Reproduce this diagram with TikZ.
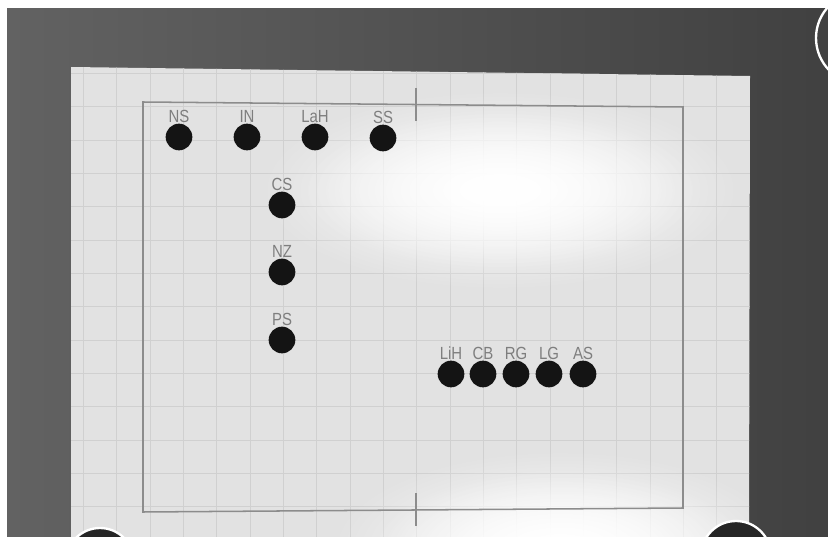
\documentclass[tikz,border=0pt]{standalone}
\usepackage{fontspec}
\setsansfont{Liberation Sans}
\usepackage{tikz}
\usetikzlibrary{positioning, fadings}
\definecolor{fundo}{HTML}{4C4C4C}
\definecolor{fundoclaro}{HTML}{626262}
\definecolor{papel}{HTML}{E2E2E2}
\definecolor{grade}{HTML}{D0D0D0}
\definecolor{moldura}{HTML}{8C8C8C}
\definecolor{texto}{HTML}{7E7E7E}
\tikzfading[name=brilho, inner color=transparent!0, outer color=transparent!100]

\begin{document}
\begin{tikzpicture}[x=0.03cm, y=-0.03cm,
    ponto/.style={circle, fill=black!92, minimum size=0.8cm, inner sep=0pt},
    rotulo/.style={font=\sffamily\fontsize{15}{15}\selectfont, text=texto, inner sep=0.3pt, xscale=0.85},
    linhagrade/.style={grade, line width=0.5pt},
    marca/.style={moldura, line width=1.2pt},
    lente/.style={fill=black!85, draw=white!85, line width=2pt},
    reflexo/.style={fill=white, path fading=brilho}
]
    \useasboundingbox (0,0) rectangle (828,537);
    \fill[white] (0,0) rectangle (828,537);
    \shade[left color=fundoclaro, right color=fundo!85!black] (7,9) rectangle (828,537);

    % folha com a grade
    \fill[papel] (71,67) -- (750,76) -- (749,537) -- (71,537) -- cycle;
    \begin{scope}
        \clip (71,67) -- (750,76) -- (749,537) -- (71,537) -- cycle;
        \foreach \k in {-11,...,9}
            \draw[linhagrade] ({450+33.33*\k},60) -- ++(0,480);
        \foreach \k in {-2,...,12}
            \draw[linhagrade] (60,{140+33.33*\k}) -- ++(700,0);
        \fill[reflexo] (500,190) ellipse [x radius=240, y radius=100];
        \fill[reflexo] (500,190) ellipse [x radius=200, y radius=80];
        \fill[reflexo] (560,550) ellipse [x radius=230, y radius=100];
        \fill[reflexo] (560,550) ellipse [x radius=190, y radius=80];
    \end{scope}

    % moldura e marcas
    \draw[moldura, line width=1.3pt] (143,102) -- (683,107) -- (683,508) -- (143,512) -- cycle;
    \draw[marca] (416,88) -- (416,121);
    \draw[marca] (416,493) -- (416,526);

    % fileira de cima
    \node[ponto] (ns) at (179,137) {};
    \node[ponto] (in) at (247,137) {};
    \node[ponto] (lah) at (315,137) {};
    \node[ponto] (ss) at (383,138) {};
    \node[rotulo, above=0pt of ns] (ns-r) {NS};
    \node[rotulo, above=0pt of in] (in-r) {IN};
    \node[rotulo, above=0pt of lah] (lah-r) {LaH};
    \node[rotulo, above=0pt of ss] (ss-r) {SS};

    % coluna
    \node[ponto] (cs) at (282,205) {};
    \node[ponto] (nz) at (282,272) {};
    \node[ponto] (ps) at (282,340) {};
    \node[rotulo, above=0pt of cs] (cs-r) {CS};
    \node[rotulo, above=0pt of nz] (nz-r) {NZ};
    \node[rotulo, above=0pt of ps] (ps-r) {PS};

    % fileira de baixo
    \node[ponto] (lih) at (451,374) {};
    \node[ponto] (cb) at (483,374) {};
    \node[ponto] (rg) at (516,374) {};
    \node[ponto] (lg) at (549,374) {};
    \node[ponto] (as) at (583,374) {};
    \node[rotulo, above=0pt of lih] (lih-r) {LiH};
    \node[rotulo, above=0pt of cb] (cb-r) {CB};
    \node[rotulo, above=0pt of rg] (rg-r) {RG};
    \node[rotulo, above=0pt of lg] (lg-r) {LG};
    \node[rotulo, above=0pt of as] (as-r) {AS};

    % lentes nos cantos
    \draw[lente] (100,562) circle [radius=34];
    \draw[lente] (736,556) circle [radius=35];
    \draw[white, line width=2pt] (862,38) circle [radius=46];
\end{tikzpicture}
\end{document}
